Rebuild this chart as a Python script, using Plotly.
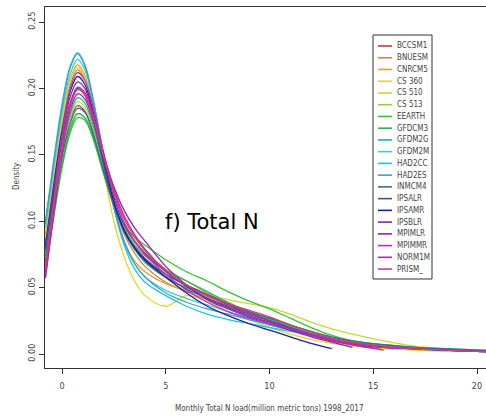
import plotly.graph_objects as go

# ---------------- data ----------------
x_grid = [-0.8, -0.4, 0.0, 0.4, 0.75, 1.1, 1.5, 2.0, 2.5, 3.0, 3.5, 4.0, 5.0, 6.0,
          7.0, 8.0, 9.0, 10.0, 11.0, 12.0, 13.0, 14.0, 15.5, 17.0, 18.5, 20.0, 21.0]

model_names = ["BCCSM1", "BNUESM", "CNRCM5", "CS 360", "CS 510", "CS 513", "EEARTH",
               "GFDCM3", "GFDM2G", "GFDM2M", "HAD2CC", "HAD2ES", "INMCM4", "IPSALR",
               "IPSAMR", "IPSBLR", "MPIMLR", "MPIMMR", "NORM1M", "PRISM_"]

model_colors = ["#b0463a", "#c8844c", "#e0a228", "#e6d61e", "#c4d830", "#8ed040", "#36c236",
                "#30b064", "#22b296", "#3ed2c6", "#22c0e8", "#3c9ed2", "#3e6e8e", "#4050a6",
                "#1c1ca4", "#6c34a2", "#8c22c2", "#b032c2", "#c22292", "#d2406e"]

density_bccsm1 = [0.075, 0.115, 0.152, 0.177, 0.187, 0.183, 0.167, 0.138, 0.112, 0.093, 0.081, 0.072, 0.060, 0.052, 0.045, 0.038, 0.032, 0.027, 0.021, 0.016, 0.012, 0.009, 0.006, 0.004, 0.003, 0.0025, 0.002]
density_bnuesm = [0.085, 0.130, 0.172, 0.203, 0.214, 0.207, 0.185, 0.148, 0.114, 0.090, 0.076, 0.066, 0.054, 0.047, 0.041, 0.036, 0.031, 0.026, 0.021, 0.016, 0.012, 0.009, 0.006, 0.004, 0.003, 0.002, 0.002]
density_cnrcm5 = [0.090, 0.135, 0.177, 0.207, 0.218, 0.210, 0.186, 0.146, 0.110, 0.085, 0.070, 0.062, 0.053, 0.048, 0.043, 0.037, 0.031, 0.025, 0.019, 0.014, 0.010, 0.007, 0.005, 0.004, 0.003, 0.002, 0.002]
density_cs360 = [0.088, 0.134, 0.176, 0.206, 0.216, 0.208, 0.184, 0.140, 0.100, 0.073, 0.055, 0.044, 0.036, 0.044, 0.040, 0.032, 0.026, 0.020, 0.015, 0.011, 0.008, 0.006, 0.004, 0.003, 0.002, 0.002, 0.001]
density_cs510 = [0.072, 0.112, 0.150, 0.178, 0.190, 0.186, 0.170, 0.140, 0.113, 0.093, 0.080, 0.070, 0.057, 0.050, 0.045, 0.041, 0.038, 0.035, 0.030, 0.024, 0.019, 0.015, 0.010, 0.006, 0.004, 0.003, 0.002]
density_cs513 = [0.068, 0.106, 0.143, 0.170, 0.181, 0.178, 0.163, 0.136, 0.112, 0.095, 0.084, 0.076, 0.064, 0.055, 0.046, 0.038, 0.032, 0.027, 0.021, 0.016, 0.012, 0.010, 0.007, 0.005, 0.003, 0.002, 0.002]
density_eearth = [0.066, 0.103, 0.140, 0.167, 0.178, 0.176, 0.162, 0.136, 0.112, 0.097, 0.088, 0.082, 0.071, 0.062, 0.055, 0.047, 0.040, 0.034, 0.027, 0.020, 0.014, 0.010, 0.007, 0.005, 0.003, 0.002, 0.002]
density_gfdcm3 = [0.068, 0.106, 0.143, 0.170, 0.181, 0.178, 0.164, 0.138, 0.113, 0.094, 0.082, 0.074, 0.063, 0.055, 0.047, 0.039, 0.032, 0.026, 0.020, 0.015, 0.011, 0.008, 0.006, 0.004, 0.003, 0.002, 0.002]
density_gfdm2g = [0.074, 0.115, 0.153, 0.181, 0.193, 0.189, 0.172, 0.142, 0.114, 0.093, 0.079, 0.069, 0.058, 0.050, 0.044, 0.038, 0.032, 0.026, 0.021, 0.016, 0.012, 0.009, 0.006, 0.004, 0.003, 0.002, 0.002]
density_gfdm2m = [0.095, 0.140, 0.182, 0.211, 0.222, 0.214, 0.190, 0.150, 0.112, 0.085, 0.068, 0.058, 0.048, 0.042, 0.037, 0.032, 0.027, 0.022, 0.018, 0.014, 0.011, 0.008, 0.006, 0.004, 0.003, 0.003, 0.002]
density_had2cc = [0.100, 0.146, 0.188, 0.217, 0.227, 0.218, 0.192, 0.150, 0.110, 0.082, 0.064, 0.054, 0.044, 0.036, 0.030, 0.026, 0.023, 0.020, 0.017, 0.014, 0.011, 0.008, 0.006, 0.005, 0.004, 0.003, 0.003]
density_had2es = [0.098, 0.144, 0.186, 0.216, 0.226, 0.217, 0.191, 0.149, 0.111, 0.084, 0.068, 0.058, 0.046, 0.039, 0.034, 0.030, 0.026, 0.022, 0.018, 0.014, 0.010, 0.007, 0.005, 0.004, 0.003, 0.003, 0.002]
density_inmcm4 = [0.070, 0.110, 0.148, 0.174, 0.185, 0.182, 0.166, 0.138, 0.112, 0.093, 0.080, 0.071, 0.060, 0.052, 0.045, 0.038, 0.032, 0.027, 0.022, 0.017, 0.013, 0.010, 0.007, 0.005, 0.004, 0.003, 0.002]
density_ipsalr = [0.078, 0.120, 0.160, 0.189, 0.200, 0.195, 0.176, 0.143, 0.113, 0.092, 0.079, 0.070, 0.058, 0.049, 0.042, 0.036, 0.030, 0.025, 0.020, 0.015, 0.011, 0.008, 0.005, 0.004, 0.003, 0.002, 0.002]
density_ipsamr = [0.082, 0.127, 0.168, 0.198, 0.209, 0.203, 0.182, 0.147, 0.115, 0.093, 0.080, 0.071, 0.058, 0.046, 0.036, 0.029, 0.023, 0.018, 0.013, 0.008, 0.004, None, None, None, None, None, None]
density_ipsblr = [0.080, 0.124, 0.164, 0.194, 0.205, 0.200, 0.181, 0.148, 0.118, 0.097, 0.085, 0.076, 0.062, 0.051, 0.042, 0.035, 0.029, 0.024, 0.019, 0.015, 0.011, 0.008, 0.005, 0.004, 0.003, 0.002, 0.002]
density_mpimlr = [0.058, 0.105, 0.152, 0.184, 0.196, 0.192, 0.176, 0.150, 0.126, 0.108, 0.095, 0.085, 0.066, 0.052, 0.041, 0.034, 0.028, 0.023, 0.018, 0.013, 0.009, 0.005, None, None, None, None, None]
density_mpimmr = [0.062, 0.115, 0.165, 0.200, 0.212, 0.206, 0.186, 0.152, 0.121, 0.099, 0.085, 0.075, 0.060, 0.048, 0.039, 0.032, 0.027, 0.023, 0.019, 0.015, 0.011, 0.008, 0.005, 0.004, 0.003, 0.002, 0.002]
density_norm1m = [0.057, 0.107, 0.155, 0.189, 0.201, 0.197, 0.180, 0.151, 0.124, 0.104, 0.090, 0.079, 0.063, 0.052, 0.044, 0.037, 0.031, 0.025, 0.019, 0.014, 0.010, 0.007, 0.003, None, None, None, None]
density_prism = [0.065, 0.110, 0.153, 0.187, 0.199, 0.195, 0.178, 0.149, 0.122, 0.102, 0.088, 0.078, 0.063, 0.052, 0.044, 0.038, 0.033, 0.028, 0.022, 0.017, 0.012, 0.009, 0.006, 0.004, 0.003, 0.002, 0.002]

densities = [density_bccsm1, density_bnuesm, density_cnrcm5, density_cs360, density_cs510,
             density_cs513, density_eearth, density_gfdcm3, density_gfdm2g, density_gfdm2m,
             density_had2cc, density_had2es, density_inmcm4, density_ipsalr, density_ipsamr,
             density_ipsblr, density_mpimlr, density_mpimmr, density_norm1m, density_prism]

x_ticks = [0, 5, 10, 15, 20]
y_ticks = [0.00, 0.05, 0.10, 0.15, 0.20, 0.25]
y_tick_labels = ["0.00", "0.05", "0.10", "0.15", "0.20", "0.25"]
x_title = "Monthly Total N load(million metric tons) 1998_2017"
y_title = "Density"
panel_label = "f) Total N"

# ---------------- layout geometry (pixels) ----------------
W, H = 486, 419
L, T, B, R = 45, 7, 51, 0
pw, ph = W - L - R, H - T - B

def px_x(p):
    return (p - L) / pw

def px_y(p):
    return (H - B - p) / ph

tick_font = dict(family="Liberation Sans Narrow, DejaVu Sans Condensed, Liberation Sans, sans-serif",
                 size=9, color="#444444")

fig = go.Figure()
for name, col, dens in zip(model_names, model_colors, densities):
    fig.add_trace(go.Scatter(x=x_grid, y=dens, mode="lines", name=name,
                             line=dict(color=col, width=1.3, shape="spline", smoothing=1.0),
                             connectgaps=False, showlegend=False, hoverinfo="skip"))

# manual legend (R style box)
shapes = []
annotations = []
lx0, lx1, ly0, ly1 = 373, 432, 35, 279
shapes.append(dict(type="rect", xref="paper", yref="paper",
                   x0=px_x(lx0), x1=px_x(lx1), y0=px_y(ly1), y1=px_y(ly0),
                   line=dict(color="#333333", width=1), fillcolor="white", layer="above"))
for i, (name, col) in enumerate(zip(model_names, model_colors)):
    yy = 46 + i * 11.74
    shapes.append(dict(type="line", xref="paper", yref="paper",
                       x0=px_x(378), x1=px_x(392), y0=px_y(yy), y1=px_y(yy),
                       line=dict(color=col, width=1.6), layer="above"))
    annotations.append(dict(xref="paper", yref="paper", x=px_x(395), y=px_y(yy),
                            text=name, showarrow=False, xanchor="left", yanchor="middle",
                            font=dict(family=tick_font["family"], size=8, color="#444444")))

annotations.append(dict(xref="paper", yref="paper", x=px_x(212), y=px_y(222),
                        text=panel_label, showarrow=False, xanchor="center", yanchor="middle",
                        font=dict(family="DejaVu Sans, Verdana, sans-serif", size=21, color="black")))
annotations.append(dict(xref="paper", yref="paper", x=px_x(269), y=px_y(408),
                        text=x_title, showarrow=False, xanchor="center", yanchor="middle",
                        font=dict(family=tick_font["family"], size=8, color="#444444")))
annotations.append(dict(xref="paper", yref="paper", x=px_x(16), y=px_y(176),
                        text=y_title, showarrow=False, xanchor="center", yanchor="middle",
                        textangle=-90,
                        font=dict(family=tick_font["family"], size=8, color="#444444")))

fig.update_layout(
    width=W, height=H,
    margin=dict(l=L, r=R, t=T, b=B, pad=0),
    plot_bgcolor="white", paper_bgcolor="white",
    showlegend=False,
    shapes=shapes, annotations=annotations,
    xaxis=dict(range=[-0.82, -0.82 + pw / 20.75], tickvals=x_ticks, ticks="outside", ticklen=5,
               tickcolor="#333333", showline=True, linecolor="#333333", linewidth=1, mirror=True,
               showgrid=False, zeroline=False, tickfont=tick_font, ticklabelstandoff=4),
    yaxis=dict(range=[-0.0105, -0.0105 + ph / 1328.0], tickvals=y_ticks, ticktext=y_tick_labels,
               ticks="outside", ticklen=5, tickcolor="#333333", showline=True,
               linecolor="#333333", linewidth=1, mirror=False, showgrid=False, zeroline=False,
               tickangle=-90, tickfont=tick_font),
)

fig.write_html("out.html")
